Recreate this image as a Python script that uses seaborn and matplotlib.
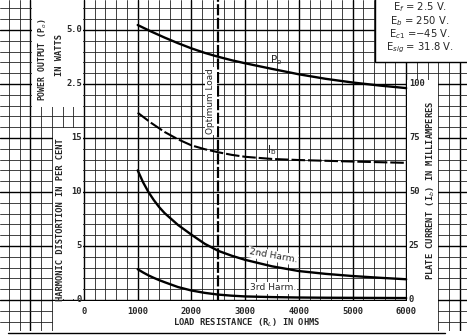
import matplotlib
matplotlib.use("Agg")
import matplotlib.pyplot as plt
from matplotlib.ticker import MultipleLocator
from matplotlib.patches import Rectangle
import seaborn as sns

# ---------------- data ----------------
rl_po = [1000, 1250, 1500, 1750, 2000, 2250, 2500, 2750, 3000, 3500, 4000, 4500, 5000, 5500, 6000]
po_watts = [5.23, 4.93, 4.65, 4.39, 4.15, 3.94, 3.76, 3.60, 3.46, 3.20, 2.95, 2.74, 2.57, 2.43, 2.31]

rl_ib = [1000, 1250, 1500, 1750, 2000, 2250, 2500, 2750, 3000, 3500, 4000, 5000, 6000]
ib_ma = [86.7, 82.0, 77.8, 74.4, 71.6, 69.8, 68.4, 67.2, 66.3, 65.3, 64.8, 64.1, 63.5]

rl_h = [1000, 1100, 1200, 1300, 1400, 1500, 1750, 2000, 2250, 2500, 2750, 3000,
        3500, 4000, 4500, 5000, 5500, 6000]
harm2_pct = [12.0, 10.9, 10.0, 9.25, 8.6, 8.05, 6.95, 6.05, 5.2, 4.55, 4.1, 3.72,
             3.12, 2.68, 2.42, 2.22, 2.06, 1.92]
harm3_pct = [2.85, 2.55, 2.28, 2.05, 1.84, 1.65, 1.2, 0.88, 0.66, 0.5, 0.4, 0.33,
             0.27, 0.23, 0.21, 0.2, 0.19, 0.18]

optimum_load = 2500

x_ticks = [0, 1000, 2000, 3000, 4000, 5000, 6000]
x_tick_labels = ["0", "1000", "2000", "3000", "4000", "5000", "6000"]
dist_ticks = [0, 5, 10, 15]
dist_tick_labels = ["0", "5", "10", "15"]
power_ticks = [2.5, 5.0]
power_tick_labels = ["2.5", "5.0"]
plate_ticks = [0, 25, 50, 75, 100]
plate_tick_labels = ["0", "25", "50", "75", "100"]

params = [r"E$_f$ = 2.5 V.", r"E$_b$ = 250 V.", r"E$_{c1}$ =$-$45 V.", r"E$_{sig}$ = 31.8 V."]

# ---------------- layout helpers (pixel -> data) ----------------
W, H = 467, 336
X0, XS = 84.0, 53.7    # pixel of 0 ohm, pixels per 1000 ohm
Y0, YS = 300.0, 10.8   # pixel of 0 %, pixels per 1 %


def fx(px):
    return (px - X0) / XS * 1000.0


def fy(py):
    return (Y0 - py) / YS


sns.set_style("white")
plt.rcParams["font.family"] = ["DejaVu Sans"]

fig = plt.figure(figsize=(W / 100, H / 100), dpi=100)
ax = fig.add_axes([0, 0, 1, 1])
axp = ax.twinx()   # power output (W)
axi = ax.twinx()   # plate current (mA)

# curves
sns.lineplot(x=rl_h, y=harm2_pct, ax=ax, color="black", lw=1.7, zorder=3)
sns.lineplot(x=rl_h, y=harm3_pct, ax=ax, color="black", lw=1.7, zorder=3)
sns.lineplot(x=rl_po, y=po_watts, ax=axp, color="black", lw=1.7)
sns.lineplot(x=rl_ib, y=ib_ma, ax=axi, color="black", lw=1.5, linestyle=(0, (6.5, 1.4)))

ylo, yhi = fy(H), fy(0)
ax.set_xlim(fx(0), fx(W))
ax.set_ylim(ylo, yhi)
axp.set_ylim((ylo - 15) / 2, (yhi - 15) / 2)
axi.set_ylim(ylo * 5, yhi * 5)

ax.axvline(optimum_load, ymin=(0 - ylo) / (yhi - ylo), ymax=1, color="black",
           lw=1.6, linestyle=(0, (5, 1.1)), zorder=3)

# graph-paper grid
ax.xaxis.set_major_locator(MultipleLocator(1000))
ax.xaxis.set_minor_locator(MultipleLocator(200))
ax.yaxis.set_major_locator(MultipleLocator(5))
ax.yaxis.set_minor_locator(MultipleLocator(1))
ax.set_axisbelow(True)
ax.grid(which="major", color="#000000", lw=1.0)
ax.grid(which="minor", color="#222222", lw=0.6)
ax.tick_params(which="both", length=0, labelbottom=False, labelleft=False)
for s in ax.spines.values():
    s.set_visible(False)
ax.set_xlabel("")
ax.set_ylabel("")
for a in (axp, axi):
    a.axis("off")


def panel(px0, py0, px1, py1, **kw):
    r = Rectangle((fx(px0), fy(py1)), fx(px1) - fx(px0), fy(py0) - fy(py1),
                  facecolor="white", edgecolor=kw.pop("edgecolor", "none"),
                  lw=kw.pop("lw", 0), zorder=1, **kw)
    ax.add_patch(r)


panel(32, -3, 83.2, 107)          # power label panel
panel(53, 128, 83.2, 299.3)       # distortion label panel
panel(53, 300.8, 438, 331)        # x label panel
panel(407.0, 80, 438, 331)        # plate current panel
panel(-3, 331, 472, 340)          # bottom margin
panel(375, -3, 472, 62, edgecolor="black", lw=1.0)  # parameter box
ax.plot([fx(8), fx(445)], [fy(333), fy(333)], color="black", lw=1.0, zorder=2)

bold = dict(family="DejaVu Sans Mono", weight="bold", size=6.3, zorder=4)

for t, lab in zip(x_ticks, x_tick_labels):
    ax.text(t, fy(312), lab, ha="center", va="center", **bold)
for t, lab in zip(dist_ticks, dist_tick_labels):
    ax.text(fx(81.5), t, lab, ha="right", va="center", **bold)
for t, lab in zip(power_ticks, power_tick_labels):
    axp.text(fx(82), t, lab, ha="right", va="center", **bold)
for t, lab in zip(plate_ticks, plate_tick_labels):
    axi.text(fx(409), t, lab, ha="left", va="center", **bold)

ax.text(fx(43), fy(60), r"POWER OUTPUT (P$_o$)", rotation=90, ha="center", va="center",
        **{**bold, "size": 5.9})
ax.text(fx(60), fy(55), "IN WATTS", rotation=90, ha="center", va="center", **bold)
ax.text(fx(61), fy(220), "HARMONIC DISTORTION IN PER CENT", rotation=90,
        ha="center", va="center", **bold)
ax.text(fx(431), fy(190), r"PLATE CURRENT (I$_b$) IN MILLIAMPERES", rotation=90,
        ha="center", va="center", **bold)
ax.text(fx(247), fy(323), r"LOAD RESISTANCE (R$_L$) IN OHMS", ha="center", va="center", **bold)

for i, s in enumerate(params):
    ax.text(fx(420), fy(7 + i * 13.7), s, ha="center", va="center", size=7.2, zorder=4)

wbox = dict(facecolor="white", edgecolor="none", pad=0.8)
ax.text(fx(276), fy(60), r"P$_{\rm o}$", ha="center", va="center", size=7.5, zorder=4)
ax.text(fx(272), fy(150), r"I$_{\rm b}$", ha="center", va="center", size=7.5, zorder=4)
ax.text(fx(273), fy(256), "2nd Harm.", ha="center", va="center", size=6.6, rotation=-10,
        bbox=wbox, zorder=4)
ax.text(fx(273), fy(288), "3rd Harm.", ha="center", va="center", size=6.6,
        bbox=wbox, zorder=4)
ax.text(fx(211), fy(101), "Optimum Load", ha="center", va="center", size=6.4, rotation=90,
        bbox=wbox, zorder=4)

fig.savefig("out.png", dpi=100)
